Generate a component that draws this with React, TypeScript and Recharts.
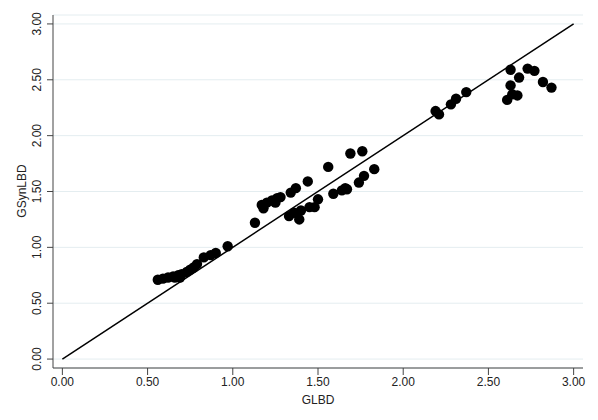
import React from "react";
import {
  CartesianGrid,
  ReferenceLine,
  Scatter,
  ScatterChart,
  XAxis,
  YAxis,
} from "recharts";

// GLBD (x) vs GSynLBD (y)
const lowCluster = [
  { x: 0.56, y: 0.71 },
  { x: 0.59, y: 0.72 },
  { x: 0.62, y: 0.73 },
  { x: 0.65, y: 0.74 },
  { x: 0.66, y: 0.73 },
  { x: 0.68, y: 0.75 },
  { x: 0.69, y: 0.73 },
  { x: 0.7, y: 0.76 },
  { x: 0.73, y: 0.78 },
  { x: 0.75, y: 0.8 },
  { x: 0.77, y: 0.82 },
  { x: 0.79, y: 0.85 },
  { x: 0.83, y: 0.91 },
  { x: 0.87, y: 0.93 },
  { x: 0.9, y: 0.95 },
  { x: 0.97, y: 1.01 },
];

const midCluster = [
  { x: 1.13, y: 1.22 },
  { x: 1.17, y: 1.38 },
  { x: 1.18, y: 1.35 },
  { x: 1.2, y: 1.4 },
  { x: 1.23, y: 1.42 },
  { x: 1.25, y: 1.4 },
  { x: 1.26, y: 1.44 },
  { x: 1.28, y: 1.45 },
  { x: 1.34, y: 1.49 },
  { x: 1.37, y: 1.53 },
  { x: 1.44, y: 1.59 },
  { x: 1.56, y: 1.72 },
  { x: 1.69, y: 1.84 },
  { x: 1.76, y: 1.86 },
  { x: 1.33, y: 1.28 },
  { x: 1.36, y: 1.31 },
  { x: 1.39, y: 1.25 },
  { x: 1.4, y: 1.33 },
  { x: 1.45, y: 1.36 },
  { x: 1.48, y: 1.36 },
  { x: 1.5, y: 1.43 },
  { x: 1.59, y: 1.48 },
  { x: 1.64, y: 1.51 },
  { x: 1.66, y: 1.53 },
  { x: 1.67, y: 1.52 },
  { x: 1.74, y: 1.58 },
  { x: 1.77, y: 1.64 },
  { x: 1.83, y: 1.7 },
];

const highCluster = [
  { x: 2.19, y: 2.22 },
  { x: 2.21, y: 2.19 },
  { x: 2.28, y: 2.28 },
  { x: 2.31, y: 2.33 },
  { x: 2.37, y: 2.39 },
  { x: 2.61, y: 2.32 },
  { x: 2.63, y: 2.59 },
  { x: 2.63, y: 2.45 },
  { x: 2.64, y: 2.37 },
  { x: 2.67, y: 2.36 },
  { x: 2.68, y: 2.52 },
  { x: 2.73, y: 2.6 },
  { x: 2.77, y: 2.58 },
  { x: 2.82, y: 2.48 },
  { x: 2.87, y: 2.43 },
];

const points = [...lowCluster, ...midCluster, ...highCluster];

const axisTicks = [0, 0.5, 1, 1.5, 2, 2.5, 3];

const AXIS = "#444";
const FONT = "'Liberation Sans', Arial, sans-serif";

const fmt = (v: number) => v.toFixed(2);

// Stata-style vertical y tick labels
function YTick(props: any) {
  const { y, payload } = props;
  const cx = 37;
  return (
    <text
      x={cx}
      y={y}
      transform={`rotate(-90, ${cx}, ${y})`}
      textAnchor="middle"
      dominantBaseline="central"
      fontSize={12}
      fill="#222"
    >
      {fmt(payload.value)}
    </text>
  );
}

const Dot = (props: any) => (
  <circle cx={props.cx} cy={props.cy} r={5.2} fill="#000" />
);

export default function App() {
  return (
    <div
      style={{ position: "absolute", left: 0, top: 0, fontFamily: FONT }}
    >
      <ScatterChart
        width={598}
        height={420}
        margin={{ top: 15, right: 15, bottom: 0, left: 0 }}
      >
        <CartesianGrid vertical={false} stroke="#e4edf0" />
        <XAxis
          type="number"
          dataKey="x"
          domain={[-0.055, 3.055]}
          ticks={axisTicks}
          tickFormatter={fmt}
          allowDataOverflow
          height={52}
          stroke={AXIS}
          tickSize={7}
          tickLine={{ stroke: AXIS }}
          tick={{ fontSize: 12, fill: "#222" }}
          tickMargin={2}
          label={{
            value: "GLBD",
            position: "insideBottom",
            offset: 16,
            fontSize: 12,
            fill: "#222",
          }}
        />
        <YAxis
          type="number"
          dataKey="y"
          domain={[-0.08, 3.08]}
          ticks={axisTicks}
          allowDataOverflow
          width={53}
          stroke={AXIS}
          tickSize={6}
          tickLine={{ stroke: AXIS }}
          tick={<YTick />}
          label={{
            content: () => (
              <text
                x={22}
                y={191}
                transform="rotate(-90, 22, 191)"
                textAnchor="middle"
                dominantBaseline="central"
                fontSize={12}
                fill="#222"
              >
                GSynLBD
              </text>
            ),
          }}
        />
        <ReferenceLine
          segment={[
            { x: 0, y: 0 },
            { x: 3, y: 3 },
          ]}
          stroke="#000"
          strokeWidth={1.5}
          ifOverflow="visible"
        />
        <Scatter
          data={points}
          shape={<Dot />}
          isAnimationActive={false}
        />
      </ScatterChart>
    </div>
  );
}
